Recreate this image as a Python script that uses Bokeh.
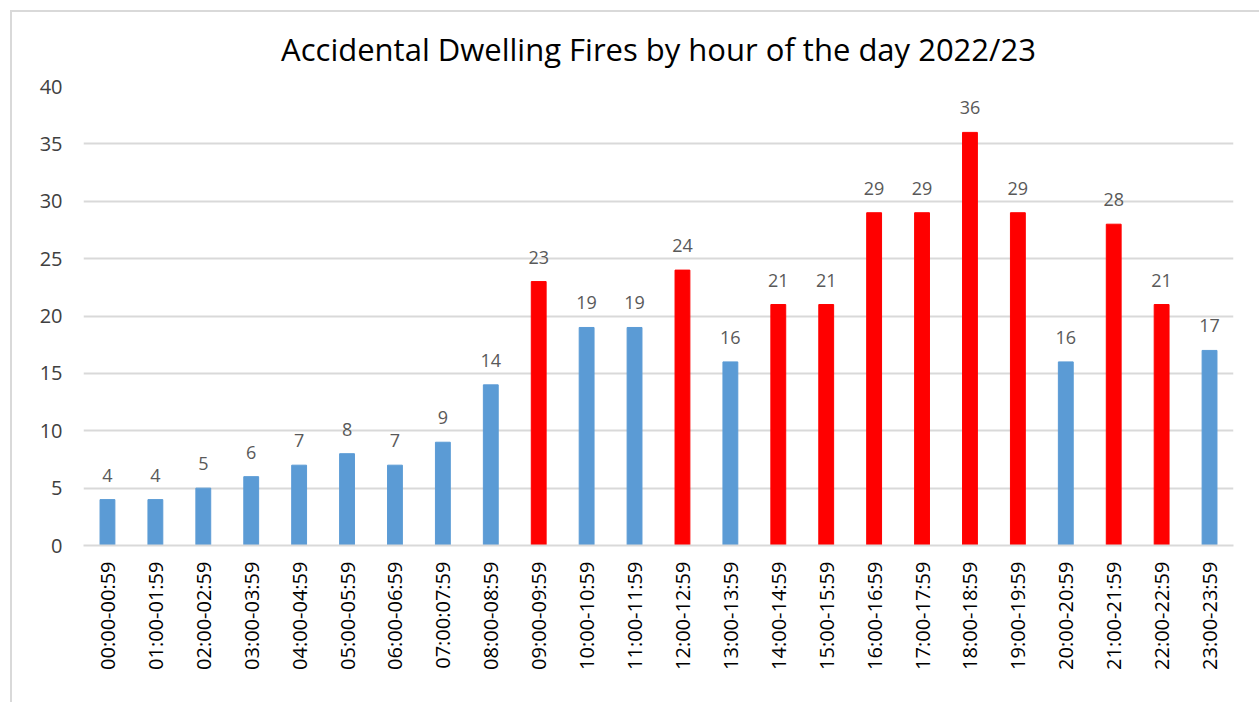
from bokeh.plotting import figure
from bokeh.models import ColumnDataSource, FactorRange, Range1d, FixedTicker, LabelSet
from bokeh.core.properties import value
from bokeh.embed import file_html
from bokeh.resources import INLINE
import math

hours = ["00:00-00:59", "01:00-01:59", "02:00-02:59", "03:00-03:59", "04:00-04:59",
         "05:00-05:59", "06:00-06:59", "07:00:07:59", "08:00-08:59", "09:00-09:59",
         "10:00-10:59", "11:00-11:59", "12:00-12:59", "13:00-13:59", "14:00-14:59",
         "15:00-15:59", "16:00-16:59", "17:00-17:59", "18:00-18:59", "19:00-19:59",
         "20:00-20:59", "21:00-21:59", "22:00-22:59", "23:00-23:59"]
fires = [4, 4, 5, 6, 7, 8, 7, 9, 14, 23, 19, 19, 24, 16, 21, 21, 29, 29, 36, 29, 16, 28, 21, 17]
highlight = [False, False, False, False, False, False, False, False, False, True,
             False, False, True, False, True, True, True, True, True, True,
             False, True, True, False]

BLUE = "#5B9BD5"
RED = "#FF0000"
colors = [RED if h else BLUE for h in highlight]

src = ColumnDataSource(dict(x=hours, y=fires, color=colors, label=[str(v) for v in fires]))

p = figure(x_range=FactorRange(*hours), y_range=Range1d(0, 40),
           width=1249, height=692, output_backend="svg", toolbar_location=None,
           min_border_left=71, min_border_right=28, min_border_top=74, min_border_bottom=159)
p.styles = {"margin-left": "10px", "margin-top": "10px",
            "border-left": "2px solid #d9d9d9", "border-top": "2px solid #d9d9d9",
            "box-sizing": "border-box"}

p.vbar(x="x", top="y", width=0.31, color="color", source=src)

labels = LabelSet(x="x", y="y", text="label", source=src, text_align="center",
                  text_baseline="alphabetic", y_offset=18, text_font_size="18px",
                  text_color="#595959", text_font=value("Open Sans"))
p.add_layout(labels)

p.title.text = "Accidental Dwelling Fires by hour of the day 2022/23"
p.title.align = "center"
p.title.vertical_align = "top"
p.title.text_font = "Open Sans"
p.title.text_font_size = "31px"
p.title.text_font_style = "normal"
p.title.text_color = "#000000"
p.title.standoff = 30

p.outline_line_color = None
p.xgrid.grid_line_color = None
p.ygrid.grid_line_color = "#d9d9d9"
p.ygrid.grid_line_width = 2
p.yaxis.ticker = FixedTicker(ticks=[0, 5, 10, 15, 20, 25, 30, 35, 40])
p.yaxis.axis_line_color = None
p.yaxis.major_tick_line_color = None
p.yaxis.minor_tick_line_color = None
p.yaxis.major_tick_out = 0
p.yaxis.major_tick_in = 0
p.yaxis.major_label_text_font = "Open Sans"
p.yaxis.major_label_text_font_size = "20px"
p.yaxis.major_label_text_color = "#404040"
p.yaxis.major_label_standoff = 21

p.xaxis.axis_line_color = "#d9d9d9"
p.xaxis.axis_line_width = 2
p.xaxis.major_tick_line_color = None
p.xaxis.minor_tick_line_color = None
p.xaxis.major_tick_out = 0
p.xaxis.major_tick_in = 0
p.xaxis.major_label_orientation = math.pi / 2
p.xaxis.major_label_text_font = "Open Sans"
p.xaxis.major_label_text_font_size = "20px"
p.xaxis.major_label_text_color = "#000000"
p.xaxis.major_label_standoff = 16

p.x_range.range_padding = 0
p.x_range.group_padding = 0

open("out.html", "w").write(file_html(p, INLINE))
